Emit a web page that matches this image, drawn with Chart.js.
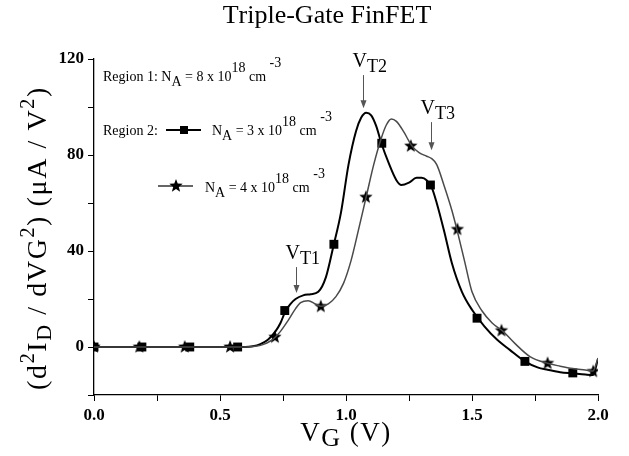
<!DOCTYPE html>
<html lang="en">
<head>
<meta charset="UTF-8">
<title>Triple-Gate FinFET</title>
<script src="https://cdn.jsdelivr.net/npm/chart.js"></script>
<style>
    body { margin: 0; background: #fff; }
    .wrap { width: 629px; height: 456px; position: relative; }
</style>
</head>
<body>
<div class="wrap"><canvas id="chart"></canvas></div>
<script>
// N_A = 3e18 curve (black, squares)
const vBlack = [0, 0.2, 0.4, 0.6, 0.63, 0.66, 0.69, 0.72, 0.74, 0.76, 0.78, 0.8, 0.83, 0.86, 0.89, 0.92, 0.95, 0.98, 1.01, 1.04, 1.06, 1.08, 1.1, 1.12, 1.14, 1.17, 1.2, 1.22, 1.25, 1.28, 1.3, 1.32, 1.34, 1.36, 1.39, 1.42, 1.46, 1.5, 1.55, 1.6, 1.65, 1.71, 1.76, 1.8, 1.85, 1.9, 1.95, 1.98, 2.0];
const dBlack = [0, 0, 0, 0, 0.3, 1.2, 3, 6.5, 10, 15, 18, 20, 21.5, 22, 23, 29, 42, 56, 76, 90, 95.5, 97.6, 96.5, 92, 85, 76.5, 69.5, 67.5, 68.5, 70.5, 70.5, 69.5, 66.5, 60, 48, 35, 23, 15.5, 8.5, 3, -1.2, -6, -8.5, -9.5, -10.5, -11, -11.5, -11.7, -5];
const sqV = [0, 0.19, 0.38, 0.57, 0.757, 0.952, 1.142, 1.335, 1.52, 1.71, 1.90];
const sqD = [0, 0, 0, 0, 15.2, 42.8, 84.9, 67.5, 12, -6, -10.8];

// N_A = 4e18 curve (grey, stars)
const vGray = [0, 0.2, 0.4, 0.6, 0.64, 0.67, 0.7, 0.72, 0.74, 0.77, 0.8, 0.82, 0.85, 0.88, 0.9, 0.93, 0.96, 0.99, 1.02, 1.05, 1.08, 1.11, 1.14, 1.16, 1.18, 1.2, 1.23, 1.26, 1.29, 1.32, 1.34, 1.36, 1.39, 1.42, 1.44, 1.47, 1.5, 1.54, 1.58, 1.62, 1.67, 1.73, 1.8, 1.85, 1.9, 1.95, 1.98, 2.0];
const dGray = [0, 0, 0, 0, 0.3, 1, 2.5, 4.2, 6.5, 11, 16, 18.5, 19.3, 17.8, 17, 18, 21, 26.5, 36, 49, 62.5, 76, 87, 92.5, 95, 94, 89.5, 84, 81, 79.5, 78.5, 76, 67, 57, 49, 36, 23, 15, 10, 6.8, 1.5, -4, -6.8, -8, -9, -9.6, -10, -4.6];
const starV = [0, 0.18, 0.36, 0.54, 0.718, 0.9, 1.079, 1.257, 1.442, 1.617, 1.8, 1.981];
const starD = [0, 0, 0, 0, 4.1, 16.9, 62.4, 83.7, 49, 6.8, -6.8, -10.2];

// threshold arrows: x position, arrow top and bottom (data units)
const vtNames = ['T1', 'T2', 'T3'];
const vtX = [0.80, 1.067, 1.337];
const vtTop = [33.3, 113.3, 93.7];
const vtBottom = [22.5, 99.5, 82];

const serif = '"Liberation Serif", "Times New Roman", serif';
const pts = (xs, ys) => xs.map((x, i) => ({ x: x, y: ys[i] }));

function makeStar(r) {
    const c = document.createElement('canvas');
    const s = Math.ceil(r * 2 + 2);
    c.width = s; c.height = s;
    const g = c.getContext('2d');
    g.translate(s / 2, s / 2);
    g.beginPath();
    for (let i = 0; i < 10; i++) {
        const rad = i % 2 === 0 ? r : r * 0.42;
        const a = -Math.PI / 2 + i * Math.PI / 5;
        g.lineTo(rad * Math.cos(a), rad * Math.sin(a));
    }
    g.closePath();
    g.fillStyle = '#000';
    g.fill();
    return c;
}
const starImg = makeStar(7);

// parts: [text, size, dy]
function drawParts(ctx, x, y, parts, align, spacing) {
    spacing = spacing || 0;
    let total = 0;
    parts.forEach(p => {
        ctx.font = p[1] + 'px ' + serif;
        for (const ch of p[0]) total += ctx.measureText(ch).width + spacing;
    });
    let cx = align === 'center' ? x - total / 2 : x;
    ctx.textAlign = 'left';
    ctx.textBaseline = 'alphabetic';
    parts.forEach(p => {
        ctx.font = p[1] + 'px ' + serif;
        for (const ch of p[0]) {
            ctx.fillText(ch, cx, y + (p[2] || 0));
            cx += ctx.measureText(ch).width + spacing;
        }
    });
}

const overlay = {
    id: 'overlay',
    afterDatasetsDraw(chart) {
        const ctx = chart.ctx;
        const a = chart.chartArea;
        const xs = chart.scales.x, ys = chart.scales.y;
        ctx.save();
        ctx.fillStyle = '#000';

        // title
        drawParts(ctx, 327, 23, [['Triple-Gate FinFET', 26, 0]], 'center');

        // axis titles
        drawParts(ctx, (a.left + a.right) / 2, 441, [['V', 27, 0], ['G', 26, 5], [' (V)', 27, 0]], 'center', 1.5);
        ctx.save();
        ctx.translate(46, 238);
        ctx.rotate(-Math.PI / 2);
        drawParts(ctx, 0, 0, [
            ['(d', 28, 0], ['2', 20, -12], ['I', 28, 0], ['D', 22, 5],
            [' / dVG', 28, 0], ['2', 20, -12], [') (\u03bcA / V', 28, 0], ['2', 20, -12], [')', 28, 0]
        ], 'center', 1.6);
        ctx.restore();

        // V_T arrows
        ctx.strokeStyle = '#555';
        ctx.fillStyle = '#555';
        ctx.lineWidth = 1;
        vtX.forEach((v, i) => {
            const px = Math.round(xs.getPixelForValue(v)) + 0.5;
            const top = ys.getPixelForValue(vtTop[i]);
            const bot = ys.getPixelForValue(vtBottom[i]);
            ctx.beginPath();
            ctx.moveTo(px, top);
            ctx.lineTo(px, bot - 6);
            ctx.stroke();
            ctx.beginPath();
            ctx.moveTo(px - 3, bot - 8);
            ctx.lineTo(px + 3, bot - 8);
            ctx.lineTo(px, bot);
            ctx.closePath();
            ctx.fill();
            ctx.fillStyle = '#000';
            drawParts(ctx, px - 11, top - 8, [['V', 20, 0], [vtNames[i], 18, 5]], 'left');
            ctx.fillStyle = '#555';
        });

        // legend block
        ctx.fillStyle = '#000';
        const L = a.left, T = a.top;
        const naParts = (n) => [['N', 14, 0], ['A', 14, 5], [' = ' + n + ' x 10', 14, 0], ['18', 14, -9], [' cm', 14, 0], [' -3', 14, -14]];
        drawParts(ctx, L + 9, T + 22, [['Region 1: ', 14, 0]].concat(naParts(8)), 'left');
        drawParts(ctx, L + 9, T + 76, [['Region 2:', 14, 0]], 'left');
        ctx.strokeStyle = '#000';
        ctx.lineWidth = 2;
        ctx.beginPath();
        ctx.moveTo(L + 72, T + 71); ctx.lineTo(L + 107, T + 71);
        ctx.stroke();
        ctx.fillRect(L + 86, T + 67, 8, 8);
        drawParts(ctx, L + 118, T + 76, naParts(3), 'left');
        ctx.strokeStyle = '#333';
        ctx.lineWidth = 1.5;
        ctx.beginPath();
        ctx.moveTo(L + 64, T + 127); ctx.lineTo(L + 99, T + 127);
        ctx.stroke();
        ctx.drawImage(starImg, L + 82 - starImg.width / 2, T + 127 - starImg.height / 2);
        drawParts(ctx, L + 111, T + 133, naParts(4), 'left');

        ctx.restore();
    }
};

const tickFont = { family: serif, size: 17, weight: 'bold' };

new Chart(document.getElementById('chart'), {
    type: 'scatter',
    data: {
        datasets: [
            { data: pts(vGray, dGray), showLine: true, borderColor: '#4a4a4a', borderWidth: 1.5, pointRadius: 0, cubicInterpolationMode: 'monotone' },
            { data: pts(vBlack, dBlack), showLine: true, borderColor: '#000', borderWidth: 2, pointRadius: 0, cubicInterpolationMode: 'monotone' },
            { data: pts(starV, starD), showLine: false, pointStyle: starImg, pointRadius: 7 },
            { data: pts(sqV, sqD), showLine: false, pointStyle: 'rect', pointRadius: 6.3, backgroundColor: '#000', borderColor: '#000', borderWidth: 0 }
        ]
    },
    options: {
        responsive: true,
        maintainAspectRatio: false,
        animation: false,
        layout: { padding: { top: 59, right: 31, bottom: 0, left: 0 } },
        plugins: { legend: { display: false }, tooltip: { enabled: false } },
        scales: {
            x: {
                type: 'linear', min: 0, max: 2,
                afterFit: s => { s.height = 61; },
                grid: { display: true, drawOnChartArea: false, drawTicks: true, tickLength: 6, color: '#000' },
                border: { display: true, color: '#000', width: 1.3 },
                ticks: {
                    stepSize: 0.25, color: '#000', font: tickFont, padding: 4, maxRotation: 0, autoSkip: false,
                    callback: v => Math.abs(v * 2 - Math.round(v * 2)) < 1e-6 ? v.toFixed(1) : ''
                }
            },
            y: {
                type: 'linear', min: -20, max: 120,
                afterFit: s => { s.width = 94; },
                grid: { display: true, drawOnChartArea: false, drawTicks: true, tickLength: 6, color: '#000' },
                border: { display: true, color: '#000', width: 1.3 },
                ticks: {
                    stepSize: 20, color: '#000', font: tickFont, padding: 4, autoSkip: false,
                    callback: v => (v % 40 === 0 ? String(v) : '')
                }
            }
        }
    },
    plugins: [overlay]
});
</script>
</body>
</html>
